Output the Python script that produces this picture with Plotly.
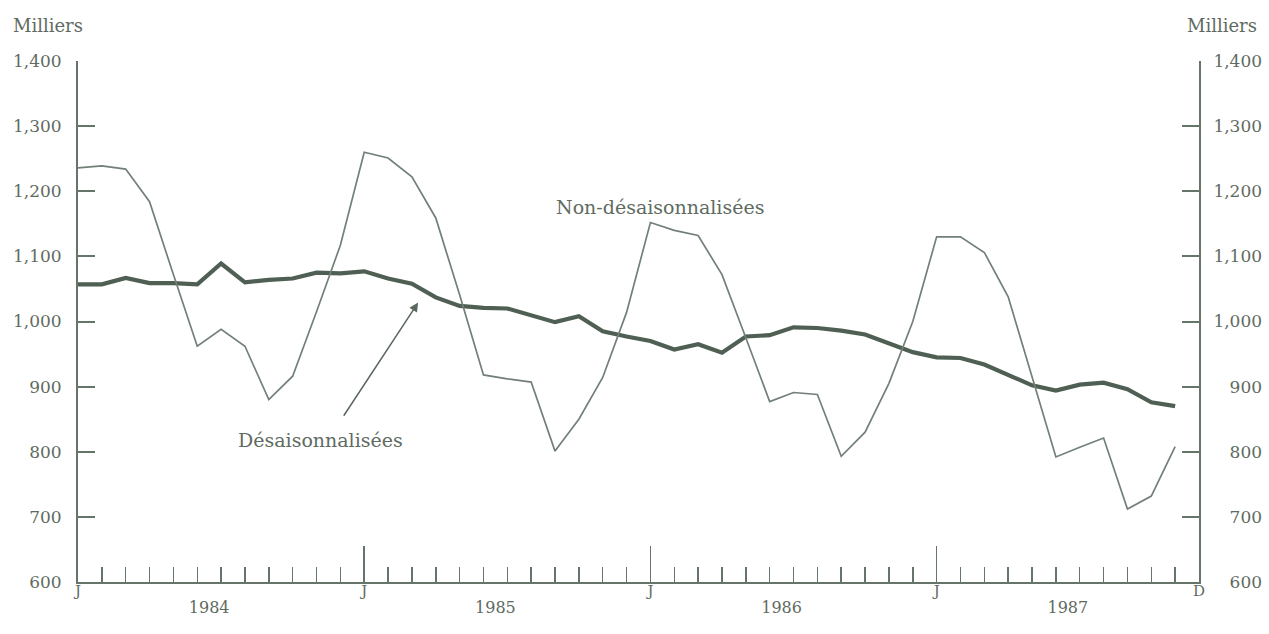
import plotly.graph_objects as go

# ---- data (thousands) ----
months = list(range(47))  # Jan 1984 .. Nov 1987
non_desaison = [1236, 1239, 1234, 1184, 1072, 962, 988, 962, 880, 916, 1015, 1117,
                1260, 1251, 1222, 1159, 1041, 918, 912, 907, 801, 850, 914, 1014,
                1152, 1140, 1132, 1072, 975, 877, 891, 888, 793, 830, 905, 1000,
                1130, 1130, 1106, 1038, 915, 792, 807, 821, 712, 732, 808]
desaison = [1057, 1057, 1067, 1059, 1059, 1057, 1089, 1060, 1064, 1066, 1075, 1074,
            1077, 1066, 1058, 1037, 1024, 1021, 1020, 1009, 999, 1008, 985, 977,
            970, 957, 965, 952, 977, 979, 991, 990, 986, 980, 966, 953,
            945, 944, 934, 918, 902, 894, 903, 906, 896, 876, 870]

y_ticks = [600, 700, 800, 900, 1000, 1100, 1200, 1300, 1400]
y_ticktext = ["600", "700", "800", "900", "1,000", "1,100", "1,200", "1,300", "1,400"]
month_ticks = [0, 12, 24, 36, 47]
month_labels = ["J", "J", "J", "J", "D"]
year_ticks = [5.5, 17.5, 29.5, 41.5]
year_labels = ["1984", "1985", "1986", "1987"]

FONT = "DejaVu Serif"
TXT = "#5f6b61"
AX = "#66756a"

# right-aligned labels on right axis via figure / punctuation spaces
def pad(t):
    n_digits = sum(c.isdigit() for c in t)
    n_comma = t.count(",")
    return "\u2007" * (4 - n_digits) + "\u2008" * (1 - n_comma) + t

y_ticktext_right = [pad(t) for t in y_ticktext]

fig = go.Figure()
fig.add_trace(go.Scatter(x=months, y=desaison, mode="lines",
                         line=dict(color="#4f5f53", width=4.2),
                         xaxis="x", yaxis="y", showlegend=False, hoverinfo="skip"))
fig.add_trace(go.Scatter(x=months, y=non_desaison, mode="lines",
                         line=dict(color="#728078", width=1.7),
                         xaxis="x2", yaxis="y2", showlegend=False, hoverinfo="skip"))

yaxis_common = dict(range=[600, 1400], tickvals=y_ticks, showgrid=False, zeroline=False,
                    showline=True, linecolor=AX, linewidth=2, automargin=False,
                    ticks="inside", ticklen=17, tickwidth=2, tickcolor=AX,
                    tickfont=dict(family=FONT, size=17, color=TXT), fixedrange=True)

fig.update_layout(
    template="none",
    width=1269, height=634,
    margin=dict(l=78, r=70, t=61, b=52, pad=0),
    paper_bgcolor="white", plot_bgcolor="white",
    xaxis=dict(range=[0, 47], tickmode="array", tickvals=month_ticks, ticktext=month_labels,
               showgrid=False, zeroline=False, showline=True, linecolor=AX, linewidth=2,
               automargin=False, fixedrange=True,
               ticks="inside", ticklen=36, tickwidth=1.5, tickcolor=AX,
               minor=dict(ticks="inside", ticklen=15, tickwidth=1.5, tickcolor=AX,
                          tickmode="linear", tick0=0, dtick=1, showgrid=False),
               tickfont=dict(family=FONT, size=15, color=TXT), ticklabelstandoff=-6),
    xaxis2=dict(range=[0, 47], overlaying="x", anchor="y2", side="bottom",
                tickmode="array", tickvals=year_ticks, ticktext=year_labels,
                showgrid=False, zeroline=False, showline=False, ticks="", automargin=False,
                fixedrange=True,
                tickfont=dict(family=FONT, size=16, color=TXT), ticklabelstandoff=14),
    yaxis=dict(**yaxis_common, side="left", ticktext=y_ticktext, ticklabelstandoff=11),
    yaxis2=dict(**yaxis_common, side="right", overlaying="y", ticktext=y_ticktext_right,
                ticklabelstandoff=9),
    annotations=[
        dict(text="Milliers", xref="paper", yref="paper", x=-0.027, y=1.0, yshift=36,
             xanchor="center", yanchor="middle", showarrow=False,
             font=dict(family=FONT, size=18, color=TXT)),
        dict(text="Milliers", xref="paper", yref="paper", x=1.0205, y=1.0, yshift=36,
             xanchor="center", yanchor="middle", showarrow=False,
             font=dict(family=FONT, size=18, color=TXT)),
        dict(text="Non-désaisonnalisées", xref="x", yref="y", x=24.4, y=1176,
             showarrow=False, font=dict(family=FONT, size=19, color=TXT)),
        dict(text="Désaisonnalisées", xref="x", yref="y", x=10.15, y=818,
             showarrow=False, font=dict(family=FONT, size=19, color=TXT)),
        dict(text="", xref="x", yref="y", x=14.26, y=1029, axref="x", ayref="y",
             ax=11.1, ay=853, showarrow=True, arrowhead=2, arrowsize=1.2,
             arrowwidth=1.5, arrowcolor="#5a675d"),
    ],
)

fig.write_html("out.html",
               config={"displayModeBar": False, "staticPlot": True},
               post_script="document.body.style.margin='0';"
                           "document.body.style.overflow='hidden';")
